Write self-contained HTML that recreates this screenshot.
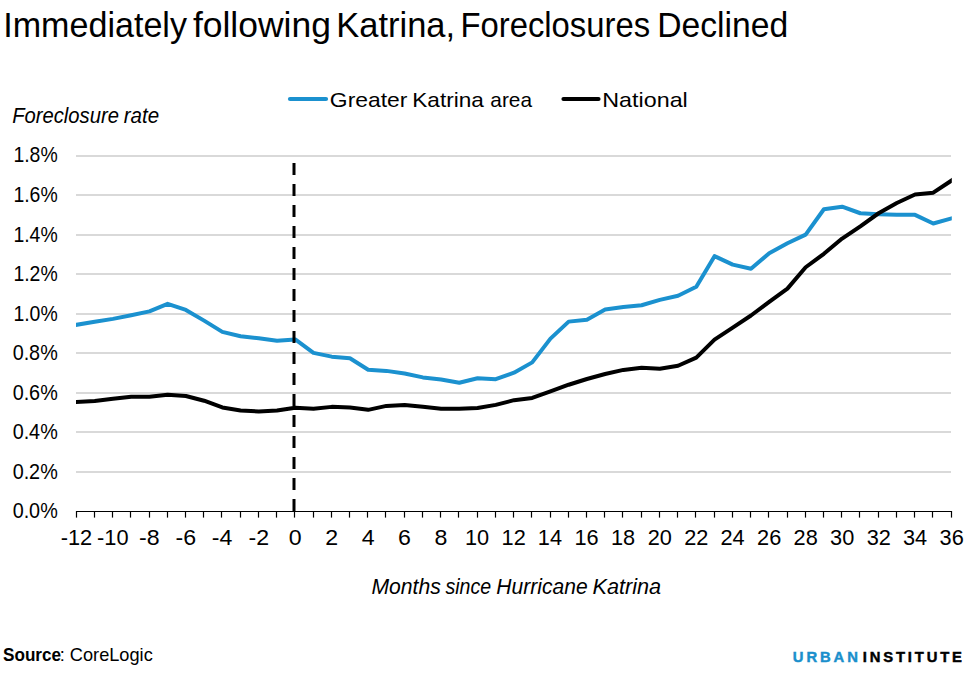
<!DOCTYPE html>
<html><head><meta charset="utf-8"><style>
html,body{margin:0;padding:0;background:#fff;width:969px;height:673px;overflow:hidden}
svg{display:block}
text{font-family:"Liberation Sans",sans-serif;fill:#000}
</style></head><body>
<svg width="969" height="673" viewBox="0 0 969 673">
<line x1="76" x2="951" y1="472.00" y2="472.00" stroke="#d9d9d9" stroke-width="2"/>
<line x1="76" x2="951" y1="432.00" y2="432.00" stroke="#d9d9d9" stroke-width="2"/>
<line x1="76" x2="951" y1="393.00" y2="393.00" stroke="#d9d9d9" stroke-width="2"/>
<line x1="76" x2="951" y1="353.00" y2="353.00" stroke="#d9d9d9" stroke-width="2"/>
<line x1="76" x2="951" y1="314.00" y2="314.00" stroke="#d9d9d9" stroke-width="2"/>
<line x1="76" x2="951" y1="274.00" y2="274.00" stroke="#d9d9d9" stroke-width="2"/>
<line x1="76" x2="951" y1="235.00" y2="235.00" stroke="#d9d9d9" stroke-width="2"/>
<line x1="76" x2="951" y1="195.00" y2="195.00" stroke="#d9d9d9" stroke-width="2"/>
<line x1="76" x2="951" y1="156.00" y2="156.00" stroke="#d9d9d9" stroke-width="2"/>
<line x1="76" x2="952" y1="511.5" y2="511.5" stroke="#000" stroke-width="1.2"/>
<line x1="76.50" x2="76.50" y1="511" y2="517.6" stroke="#000" stroke-width="1.2"/>
<line x1="94.50" x2="94.50" y1="511" y2="517.6" stroke="#000" stroke-width="1.2"/>
<line x1="112.50" x2="112.50" y1="511" y2="517.6" stroke="#000" stroke-width="1.2"/>
<line x1="130.50" x2="130.50" y1="511" y2="517.6" stroke="#000" stroke-width="1.2"/>
<line x1="149.50" x2="149.50" y1="511" y2="517.6" stroke="#000" stroke-width="1.2"/>
<line x1="167.50" x2="167.50" y1="511" y2="517.6" stroke="#000" stroke-width="1.2"/>
<line x1="185.50" x2="185.50" y1="511" y2="517.6" stroke="#000" stroke-width="1.2"/>
<line x1="203.50" x2="203.50" y1="511" y2="517.6" stroke="#000" stroke-width="1.2"/>
<line x1="221.50" x2="221.50" y1="511" y2="517.6" stroke="#000" stroke-width="1.2"/>
<line x1="240.50" x2="240.50" y1="511" y2="517.6" stroke="#000" stroke-width="1.2"/>
<line x1="258.50" x2="258.50" y1="511" y2="517.6" stroke="#000" stroke-width="1.2"/>
<line x1="276.50" x2="276.50" y1="511" y2="517.6" stroke="#000" stroke-width="1.2"/>
<line x1="294.50" x2="294.50" y1="511" y2="517.6" stroke="#000" stroke-width="1.2"/>
<line x1="313.50" x2="313.50" y1="511" y2="517.6" stroke="#000" stroke-width="1.2"/>
<line x1="331.50" x2="331.50" y1="511" y2="517.6" stroke="#000" stroke-width="1.2"/>
<line x1="349.50" x2="349.50" y1="511" y2="517.6" stroke="#000" stroke-width="1.2"/>
<line x1="367.50" x2="367.50" y1="511" y2="517.6" stroke="#000" stroke-width="1.2"/>
<line x1="385.50" x2="385.50" y1="511" y2="517.6" stroke="#000" stroke-width="1.2"/>
<line x1="404.50" x2="404.50" y1="511" y2="517.6" stroke="#000" stroke-width="1.2"/>
<line x1="422.50" x2="422.50" y1="511" y2="517.6" stroke="#000" stroke-width="1.2"/>
<line x1="440.50" x2="440.50" y1="511" y2="517.6" stroke="#000" stroke-width="1.2"/>
<line x1="458.50" x2="458.50" y1="511" y2="517.6" stroke="#000" stroke-width="1.2"/>
<line x1="477.50" x2="477.50" y1="511" y2="517.6" stroke="#000" stroke-width="1.2"/>
<line x1="495.50" x2="495.50" y1="511" y2="517.6" stroke="#000" stroke-width="1.2"/>
<line x1="513.50" x2="513.50" y1="511" y2="517.6" stroke="#000" stroke-width="1.2"/>
<line x1="531.50" x2="531.50" y1="511" y2="517.6" stroke="#000" stroke-width="1.2"/>
<line x1="550.50" x2="550.50" y1="511" y2="517.6" stroke="#000" stroke-width="1.2"/>
<line x1="568.50" x2="568.50" y1="511" y2="517.6" stroke="#000" stroke-width="1.2"/>
<line x1="586.50" x2="586.50" y1="511" y2="517.6" stroke="#000" stroke-width="1.2"/>
<line x1="604.50" x2="604.50" y1="511" y2="517.6" stroke="#000" stroke-width="1.2"/>
<line x1="622.50" x2="622.50" y1="511" y2="517.6" stroke="#000" stroke-width="1.2"/>
<line x1="641.50" x2="641.50" y1="511" y2="517.6" stroke="#000" stroke-width="1.2"/>
<line x1="659.50" x2="659.50" y1="511" y2="517.6" stroke="#000" stroke-width="1.2"/>
<line x1="677.50" x2="677.50" y1="511" y2="517.6" stroke="#000" stroke-width="1.2"/>
<line x1="695.50" x2="695.50" y1="511" y2="517.6" stroke="#000" stroke-width="1.2"/>
<line x1="714.50" x2="714.50" y1="511" y2="517.6" stroke="#000" stroke-width="1.2"/>
<line x1="732.50" x2="732.50" y1="511" y2="517.6" stroke="#000" stroke-width="1.2"/>
<line x1="750.50" x2="750.50" y1="511" y2="517.6" stroke="#000" stroke-width="1.2"/>
<line x1="768.50" x2="768.50" y1="511" y2="517.6" stroke="#000" stroke-width="1.2"/>
<line x1="787.50" x2="787.50" y1="511" y2="517.6" stroke="#000" stroke-width="1.2"/>
<line x1="805.50" x2="805.50" y1="511" y2="517.6" stroke="#000" stroke-width="1.2"/>
<line x1="823.50" x2="823.50" y1="511" y2="517.6" stroke="#000" stroke-width="1.2"/>
<line x1="841.50" x2="841.50" y1="511" y2="517.6" stroke="#000" stroke-width="1.2"/>
<line x1="859.50" x2="859.50" y1="511" y2="517.6" stroke="#000" stroke-width="1.2"/>
<line x1="878.50" x2="878.50" y1="511" y2="517.6" stroke="#000" stroke-width="1.2"/>
<line x1="896.50" x2="896.50" y1="511" y2="517.6" stroke="#000" stroke-width="1.2"/>
<line x1="914.50" x2="914.50" y1="511" y2="517.6" stroke="#000" stroke-width="1.2"/>
<line x1="932.50" x2="932.50" y1="511" y2="517.6" stroke="#000" stroke-width="1.2"/>
<line x1="951.50" x2="951.50" y1="511" y2="517.6" stroke="#000" stroke-width="1.2"/>
<defs><clipPath id="pc"><rect x="76" y="140" width="875.8" height="380"/></clipPath></defs>
<polyline clip-path="url(#pc)" points="76.50,324.80 94.73,321.83 112.96,318.86 131.19,315.30 149.42,311.35 167.64,303.83 185.87,309.96 204.10,320.64 222.33,331.92 240.56,336.27 258.79,338.24 277.02,340.82 295.25,339.43 313.48,352.88 331.71,356.64 349.94,358.22 368.16,369.69 386.39,370.88 404.62,373.45 422.85,377.41 441.08,379.58 459.31,382.75 477.54,378.20 495.77,379.19 514.00,372.66 532.22,362.37 550.45,338.64 568.68,321.63 586.91,319.65 605.14,309.57 623.37,307.00 641.60,305.22 659.83,299.88 678.06,295.72 696.29,286.82 714.51,256.17 732.74,264.67 750.97,268.82 769.20,253.20 787.43,243.31 805.66,234.61 823.89,209.29 842.12,206.72 860.35,213.25 878.58,214.24 896.80,214.83 915.03,214.83 933.26,223.53 951.49,218.39" fill="none" stroke="#1b91cf" stroke-width="4" stroke-linejoin="round" stroke-linecap="square"/>
<polyline clip-path="url(#pc)" points="76.50,401.93 94.73,400.94 112.96,398.77 131.19,396.79 149.42,396.79 167.64,394.81 185.87,396.00 204.10,400.74 222.33,407.47 240.56,410.43 258.79,411.42 277.02,410.43 295.25,407.67 313.48,408.65 331.71,406.87 349.94,407.47 368.16,409.84 386.39,405.89 404.62,404.90 422.85,406.68 441.08,408.85 459.31,408.85 477.54,408.06 495.77,404.90 514.00,400.15 532.22,397.97 550.45,391.45 568.68,384.72 586.91,378.99 605.14,374.04 623.37,369.89 641.60,367.71 659.83,368.70 678.06,365.74 696.29,357.63 714.51,339.63 732.74,327.56 750.97,315.50 769.20,301.85 787.43,288.60 805.66,267.24 823.89,253.79 842.12,238.56 860.35,226.30 878.58,213.25 896.80,202.96 915.03,194.46 933.26,192.68 951.49,180.61" fill="none" stroke="#000" stroke-width="4" stroke-linejoin="round" stroke-linecap="square"/>
<line x1="294.0" x2="294.0" y1="163" y2="511" stroke="#000" stroke-width="3" stroke-dasharray="12 9"/>
<line x1="290" x2="326" y1="99" y2="99" stroke="#1b91cf" stroke-width="4.2" stroke-linecap="round"/>
<line x1="563.5" x2="598.5" y1="99" y2="99" stroke="#000" stroke-width="4.2" stroke-linecap="round"/>
<text x="3.25" y="36.70" font-size="34.50" textLength="183.7" lengthAdjust="spacingAndGlyphs" >Immediately</text>
<text x="192.90" y="36.70" font-size="34.50" textLength="138.0" lengthAdjust="spacingAndGlyphs" >following</text>
<text x="336.27" y="36.70" font-size="34.50" textLength="118.8" lengthAdjust="spacingAndGlyphs" >Katrina,</text>
<text x="460.41" y="36.70" font-size="34.50" textLength="189.7" lengthAdjust="spacingAndGlyphs" >Foreclosures</text>
<text x="657.24" y="36.70" font-size="34.50" textLength="131.0" lengthAdjust="spacingAndGlyphs" >Declined</text>
<text x="329.85" y="106.60" font-size="20.80" textLength="77.6" lengthAdjust="spacingAndGlyphs" >Greater</text>
<text x="412.25" y="106.60" font-size="20.80" textLength="71.6" lengthAdjust="spacingAndGlyphs" >Katrina</text>
<text x="490.32" y="106.60" font-size="20.80" textLength="41.7" lengthAdjust="spacingAndGlyphs" >area</text>
<text x="602.29" y="106.60" font-size="20.80" textLength="85.5" lengthAdjust="spacingAndGlyphs" >National</text>
<text x="12.18" y="123.10" font-size="21.80" textLength="106.8" lengthAdjust="spacingAndGlyphs" font-style="italic">Foreclosure</text>
<text x="123.66" y="123.10" font-size="21.80" textLength="35.4" lengthAdjust="spacingAndGlyphs" font-style="italic">rate</text>
<text x="371.45" y="593.80" font-size="21.80" textLength="69.4" lengthAdjust="spacingAndGlyphs" font-style="italic">Months</text>
<text x="445.45" y="593.80" font-size="21.80" textLength="45.7" lengthAdjust="spacingAndGlyphs" font-style="italic">since</text>
<text x="496.35" y="593.80" font-size="21.80" textLength="91.3" lengthAdjust="spacingAndGlyphs" font-style="italic">Hurricane</text>
<text x="592.43" y="593.80" font-size="21.80" textLength="68.7" lengthAdjust="spacingAndGlyphs" font-style="italic">Katrina</text>
<text x="12.63" y="518.40" font-size="22.00" textLength="45.1" lengthAdjust="spacingAndGlyphs" >0.0%</text>
<text x="12.63" y="478.84" font-size="22.00" textLength="45.1" lengthAdjust="spacingAndGlyphs" >0.2%</text>
<text x="12.63" y="439.29" font-size="22.00" textLength="45.1" lengthAdjust="spacingAndGlyphs" >0.4%</text>
<text x="12.63" y="399.73" font-size="22.00" textLength="45.1" lengthAdjust="spacingAndGlyphs" >0.6%</text>
<text x="12.63" y="360.18" font-size="22.00" textLength="45.1" lengthAdjust="spacingAndGlyphs" >0.8%</text>
<text x="13.42" y="320.62" font-size="22.00" textLength="44.3" lengthAdjust="spacingAndGlyphs" >1.0%</text>
<text x="13.42" y="281.06" font-size="22.00" textLength="44.3" lengthAdjust="spacingAndGlyphs" >1.2%</text>
<text x="13.42" y="241.51" font-size="22.00" textLength="44.3" lengthAdjust="spacingAndGlyphs" >1.4%</text>
<text x="13.42" y="201.95" font-size="22.00" textLength="44.3" lengthAdjust="spacingAndGlyphs" >1.6%</text>
<text x="13.42" y="162.40" font-size="22.00" textLength="44.3" lengthAdjust="spacingAndGlyphs" >1.8%</text>
<text x="60.72" y="544.80" font-size="22.00" textLength="31.5" lengthAdjust="spacingAndGlyphs" >-12</text>
<text x="97.07" y="544.80" font-size="22.00" textLength="31.5" lengthAdjust="spacingAndGlyphs" >-10</text>
<text x="139.00" y="544.80" font-size="22.00" textLength="20.6" lengthAdjust="spacingAndGlyphs" >-8</text>
<text x="175.48" y="544.80" font-size="22.00" textLength="20.6" lengthAdjust="spacingAndGlyphs" >-6</text>
<text x="211.77" y="544.80" font-size="22.00" textLength="20.6" lengthAdjust="spacingAndGlyphs" >-4</text>
<text x="248.48" y="544.80" font-size="22.00" textLength="20.6" lengthAdjust="spacingAndGlyphs" >-2</text>
<text x="288.75" y="544.80" font-size="22.00" textLength="12.9" lengthAdjust="spacingAndGlyphs" >0</text>
<text x="325.21" y="544.80" font-size="22.00" textLength="12.9" lengthAdjust="spacingAndGlyphs" >2</text>
<text x="361.75" y="544.80" font-size="22.00" textLength="12.9" lengthAdjust="spacingAndGlyphs" >4</text>
<text x="398.07" y="544.80" font-size="22.00" textLength="12.9" lengthAdjust="spacingAndGlyphs" >6</text>
<text x="434.61" y="544.80" font-size="22.00" textLength="12.9" lengthAdjust="spacingAndGlyphs" >8</text>
<text x="465.02" y="544.80" font-size="22.00" textLength="24.2" lengthAdjust="spacingAndGlyphs" >10</text>
<text x="501.61" y="544.80" font-size="22.00" textLength="24.2" lengthAdjust="spacingAndGlyphs" >12</text>
<text x="537.84" y="544.80" font-size="22.00" textLength="24.2" lengthAdjust="spacingAndGlyphs" >14</text>
<text x="574.47" y="544.80" font-size="22.00" textLength="24.2" lengthAdjust="spacingAndGlyphs" >16</text>
<text x="610.93" y="544.80" font-size="22.00" textLength="24.2" lengthAdjust="spacingAndGlyphs" >18</text>
<text x="647.63" y="544.80" font-size="22.00" textLength="24.2" lengthAdjust="spacingAndGlyphs" >20</text>
<text x="684.22" y="544.80" font-size="22.00" textLength="24.2" lengthAdjust="spacingAndGlyphs" >22</text>
<text x="720.46" y="544.80" font-size="22.00" textLength="24.2" lengthAdjust="spacingAndGlyphs" >24</text>
<text x="757.08" y="544.80" font-size="22.00" textLength="24.2" lengthAdjust="spacingAndGlyphs" >26</text>
<text x="793.55" y="544.80" font-size="22.00" textLength="24.2" lengthAdjust="spacingAndGlyphs" >28</text>
<text x="830.10" y="544.80" font-size="22.00" textLength="24.2" lengthAdjust="spacingAndGlyphs" >30</text>
<text x="866.69" y="544.80" font-size="22.00" textLength="24.2" lengthAdjust="spacingAndGlyphs" >32</text>
<text x="902.92" y="544.80" font-size="22.00" textLength="24.2" lengthAdjust="spacingAndGlyphs" >34</text>
<text x="939.55" y="544.80" font-size="22.00" textLength="24.2" lengthAdjust="spacingAndGlyphs" >36</text>
<text x="3.01" y="660.70" font-size="19.00" textLength="58.1" lengthAdjust="spacingAndGlyphs" font-weight="bold">Source</text>
<text x="59.74" y="660.70" font-size="19.00" textLength="93.0" lengthAdjust="spacingAndGlyphs" >: CoreLogic</text>
<text x="792.81" y="661.70" font-size="14.80" font-weight="bold" letter-spacing="2.91" style="fill:#1a8fcc;stroke:#1a8fcc;stroke-width:0.45">URBAN</text>
<text x="862.81" y="661.70" font-size="14.80" font-weight="bold" letter-spacing="2.83" style="stroke:#000;stroke-width:0.45">INSTITUTE</text>
</svg>
</body></html>
